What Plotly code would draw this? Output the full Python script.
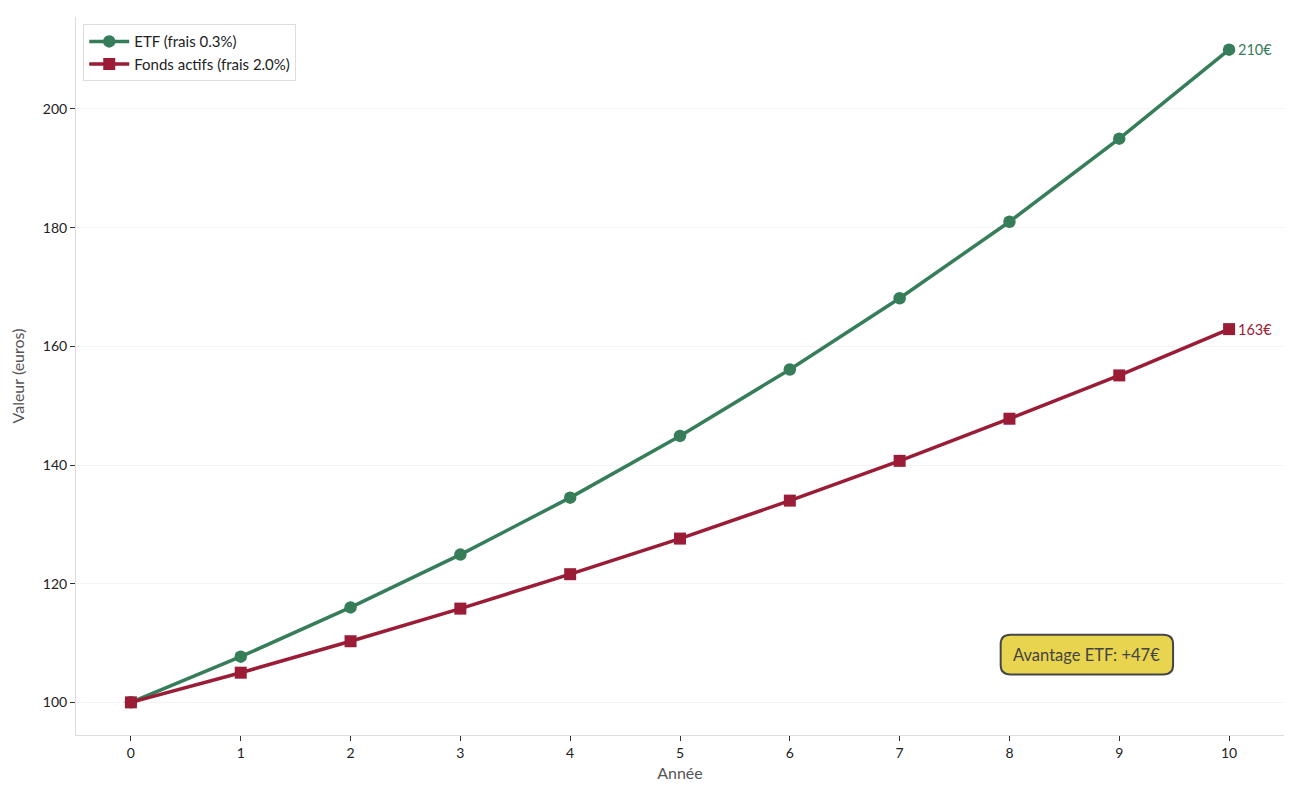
import plotly.graph_objects as go

# valeurs (base 100)
annees = [0, 1, 2, 3, 4, 5, 6, 7, 8, 9, 10]
etf = [100.0, 107.7, 116.0, 124.9, 134.5, 144.9, 156.1, 168.1, 181.0, 195.0, 210.0]
fonds = [100.0, 105.0, 110.3, 115.8, 121.6, 127.6, 134.0, 140.7, 147.8, 155.1, 162.9]
y_ticks = [100, 120, 140, 160, 180, 200]

VERT = "#367D5A"
ROUGE = "#9A1C36"
FONT = "Lato"

fig = go.Figure()
fig.add_trace(go.Scatter(
    x=annees, y=etf, mode="lines+markers", name="ETF (frais 0.3%)",
    line=dict(color=VERT, width=3.5),
    marker=dict(symbol="circle", size=12.5, color=VERT),
))
fig.add_trace(go.Scatter(
    x=annees, y=fonds, mode="lines+markers", name="Fonds actifs (frais 2.0%)",
    line=dict(color=ROUGE, width=3.5),
    marker=dict(symbol="square", size=12, color=ROUGE),
))

# etiquettes de fin de courbe
fig.add_annotation(x=annees[-1], y=etf[-1], text=f"{etf[-1]:.0f}€", showarrow=False,
                   xanchor="left", xshift=7, font=dict(color=VERT, size=14.5, family=FONT))
fig.add_annotation(x=annees[-1], y=fonds[-1], text=f"{fonds[-1]:.0f}€", showarrow=False,
                   xanchor="left", xshift=7, font=dict(color=ROUGE, size=14.5, family=FONT))

# encadre "avantage" avec coins arrondis
x0, x1, y0, y1 = 7.92, 9.49, 104.7, 111.4
rx, ry = 0.09, 1.6
path = (f"M {x0+rx},{y0} L {x1-rx},{y0} Q {x1},{y0} {x1},{y0+ry} "
        f"L {x1},{y1-ry} Q {x1},{y1} {x1-rx},{y1} L {x0+rx},{y1} "
        f"Q {x0},{y1} {x0},{y1-ry} L {x0},{y0+ry} Q {x0},{y0} {x0+rx},{y0} Z")
fig.add_shape(type="path", path=path, xref="x", yref="y",
              fillcolor="#E8D44F", line=dict(color="#454545", width=2), layer="below")
fig.add_annotation(x=(x0 + x1) / 2, y=(y0 + y1) / 2,
                   text=f"Avantage ETF: +{etf[-1] - fonds[-1]:.0f}€", showarrow=False,
                   font=dict(color="#444444", size=16.5, family=FONT))

fig.update_layout(
    width=1300, height=800,
    margin=dict(l=66, r=24, t=9, b=73),
    paper_bgcolor="white", plot_bgcolor="white",
    font=dict(family=FONT, size=14, color="#222222"),
    showlegend=True,
    legend=dict(x=0.006, y=0.99, xanchor="left", yanchor="top",
                bgcolor="white", bordercolor="#dddddd", borderwidth=1,
                itemwidth=40, font=dict(size=15, color="#222222")),
)
fig.update_xaxes(
    range=[-0.5, 10.5], tickvals=annees, showgrid=False, zeroline=False,
    showline=True, linecolor="#dddddd", linewidth=1,
    ticks="outside", ticklen=5, tickcolor="#333333",
    title=dict(text="Année", font=dict(size=16, color="#555555"), standoff=8),
)
fig.update_yaxes(
    range=[94.5, 215.5], tickvals=y_ticks, showgrid=True, gridcolor="#f4f4f4",
    zeroline=False, showline=True, linecolor="#dddddd", linewidth=1,
    ticks="outside", ticklen=5, tickcolor="#333333",
    title=dict(text="Valeur (euros)", font=dict(size=16, color="#555555")),
)

fig.write_html("out.html")
